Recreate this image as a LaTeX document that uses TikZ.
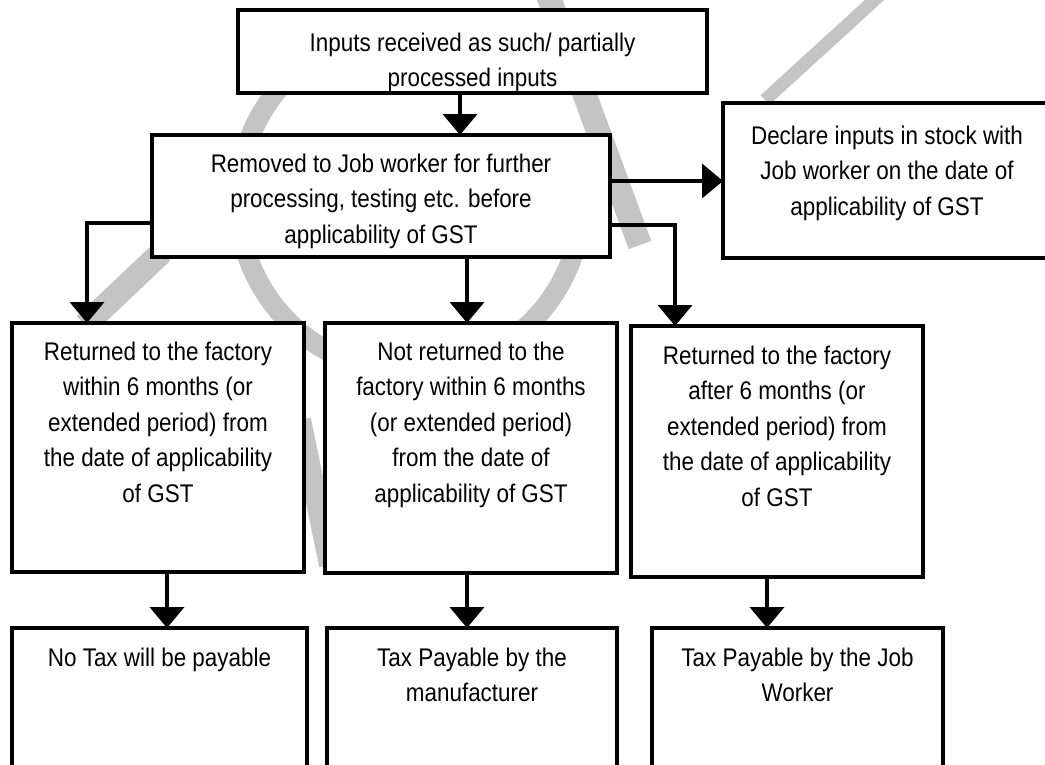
\documentclass[tikz,border=0pt]{standalone}
\usepackage{fontspec}
\setmainfont{Liberation Sans}[FakeStretch=0.88]
\usetikzlibrary{arrows.meta}
\definecolor{wm}{RGB}{196,196,196}
\newcommand{\bxc}[4]{\begin{minipage}[t][#2bp][t]{#1bp}\centering\rule{0pt}{#3bp}#4\end{minipage}}
\tikzset{
  bx/.style={draw=black, line width=3.8bp, fill=white, inner sep=0pt, outer sep=0pt,
    anchor=north west, font=\fontsize{25.5bp}{35.5bp}\selectfont},
  arr/.style={line width=3.8bp, -{Triangle[width=34bp,length=21bp]}},
  wmline/.style={draw=wm, line width=#1},
  wmline/.default=20bp
}
\begin{document}
\begin{tikzpicture}[x=1bp,y=-1bp]
\useasboundingbox (0,0) rectangle (1045,765);
\clip (0,0) rectangle (1045,765);
% watermark
\draw[wmline] (576.1,244.5) arc[start angle=15, end angle=235, radius=172];
\draw[wmline=24bp] (548,-5) -- (640,245);
\draw[wmline=13bp] (880,-5) -- (765,100);
\draw[wmline=24bp] (85,325) -- (162,252);
\draw[wmline=22bp] (300,420) -- (330,565);
% boxes
\node[bx] (top) at (238,10) {\bxc{469}{83}{41}{Inputs received as such/ partially\\processed inputs}};
\node[bx] (main) at (152,135) {\bxc{458}{122}{37}{Removed to Job worker for further\\processing, testing etc. before\\applicability of GST}};
\node[bx] (decl) at (723,103) {\bxc{328}{155}{41}{Declare inputs in stock with\\Job worker on the date of\\applicability of GST}};
\node[bx] (r1) at (12,323) {\bxc{292}{249}{37}{Returned to the factory\\within 6 months (or\\extended period) from\\the date of applicability\\of GST}};
\node[bx] (r2) at (325,323) {\bxc{292}{250}{37}{Not returned to the\\factory within 6 months\\(or extended period)\\from the date of\\applicability of GST}};
\node[bx] (r3) at (631,326) {\bxc{292}{251}{38}{Returned to the factory\\after 6 months (or\\extended period) from\\the date of applicability\\of GST}};
\node[bx] (b1) at (12,628) {\bxc{295}{172}{38}{No Tax will be payable}};
\node[bx] (b2) at (327,628) {\bxc{290}{172}{38}{Tax Payable by the\\manufacturer}};
\node[bx] (b3) at (652,628) {\bxc{291}{172}{38}{Tax Payable by the Job\\Worker}};
% connector guide coordinates
\coordinate (c1) at (460,0);
\coordinate (c2) at (0,181);
\coordinate (c3) at (87,223);
\coordinate (c4) at (467,0);
\coordinate (c5) at (675,225);
\coordinate (c6) at (167,0);
\coordinate (c7) at (767,0);
% connectors
\draw[arr] (top.south -| c1) -- (main.north -| c1);
\draw[arr] (main.east |- c2) -- (decl.west |- c2);
\draw[arr] (main.west |- c3) -| (r1.north -| c3);
\draw[arr] (main.south -| c4) -- (r2.north -| c4);
\draw[arr] (main.east |- c5) -| (r3.north -| c5);
\draw[arr] (r1.south -| c6) -- (b1.north -| c6);
\draw[arr] (r2.south -| c4) -- (b2.north -| c4);
\draw[arr] (r3.south -| c7) -- (b3.north -| c7);
\end{tikzpicture}
\end{document}
